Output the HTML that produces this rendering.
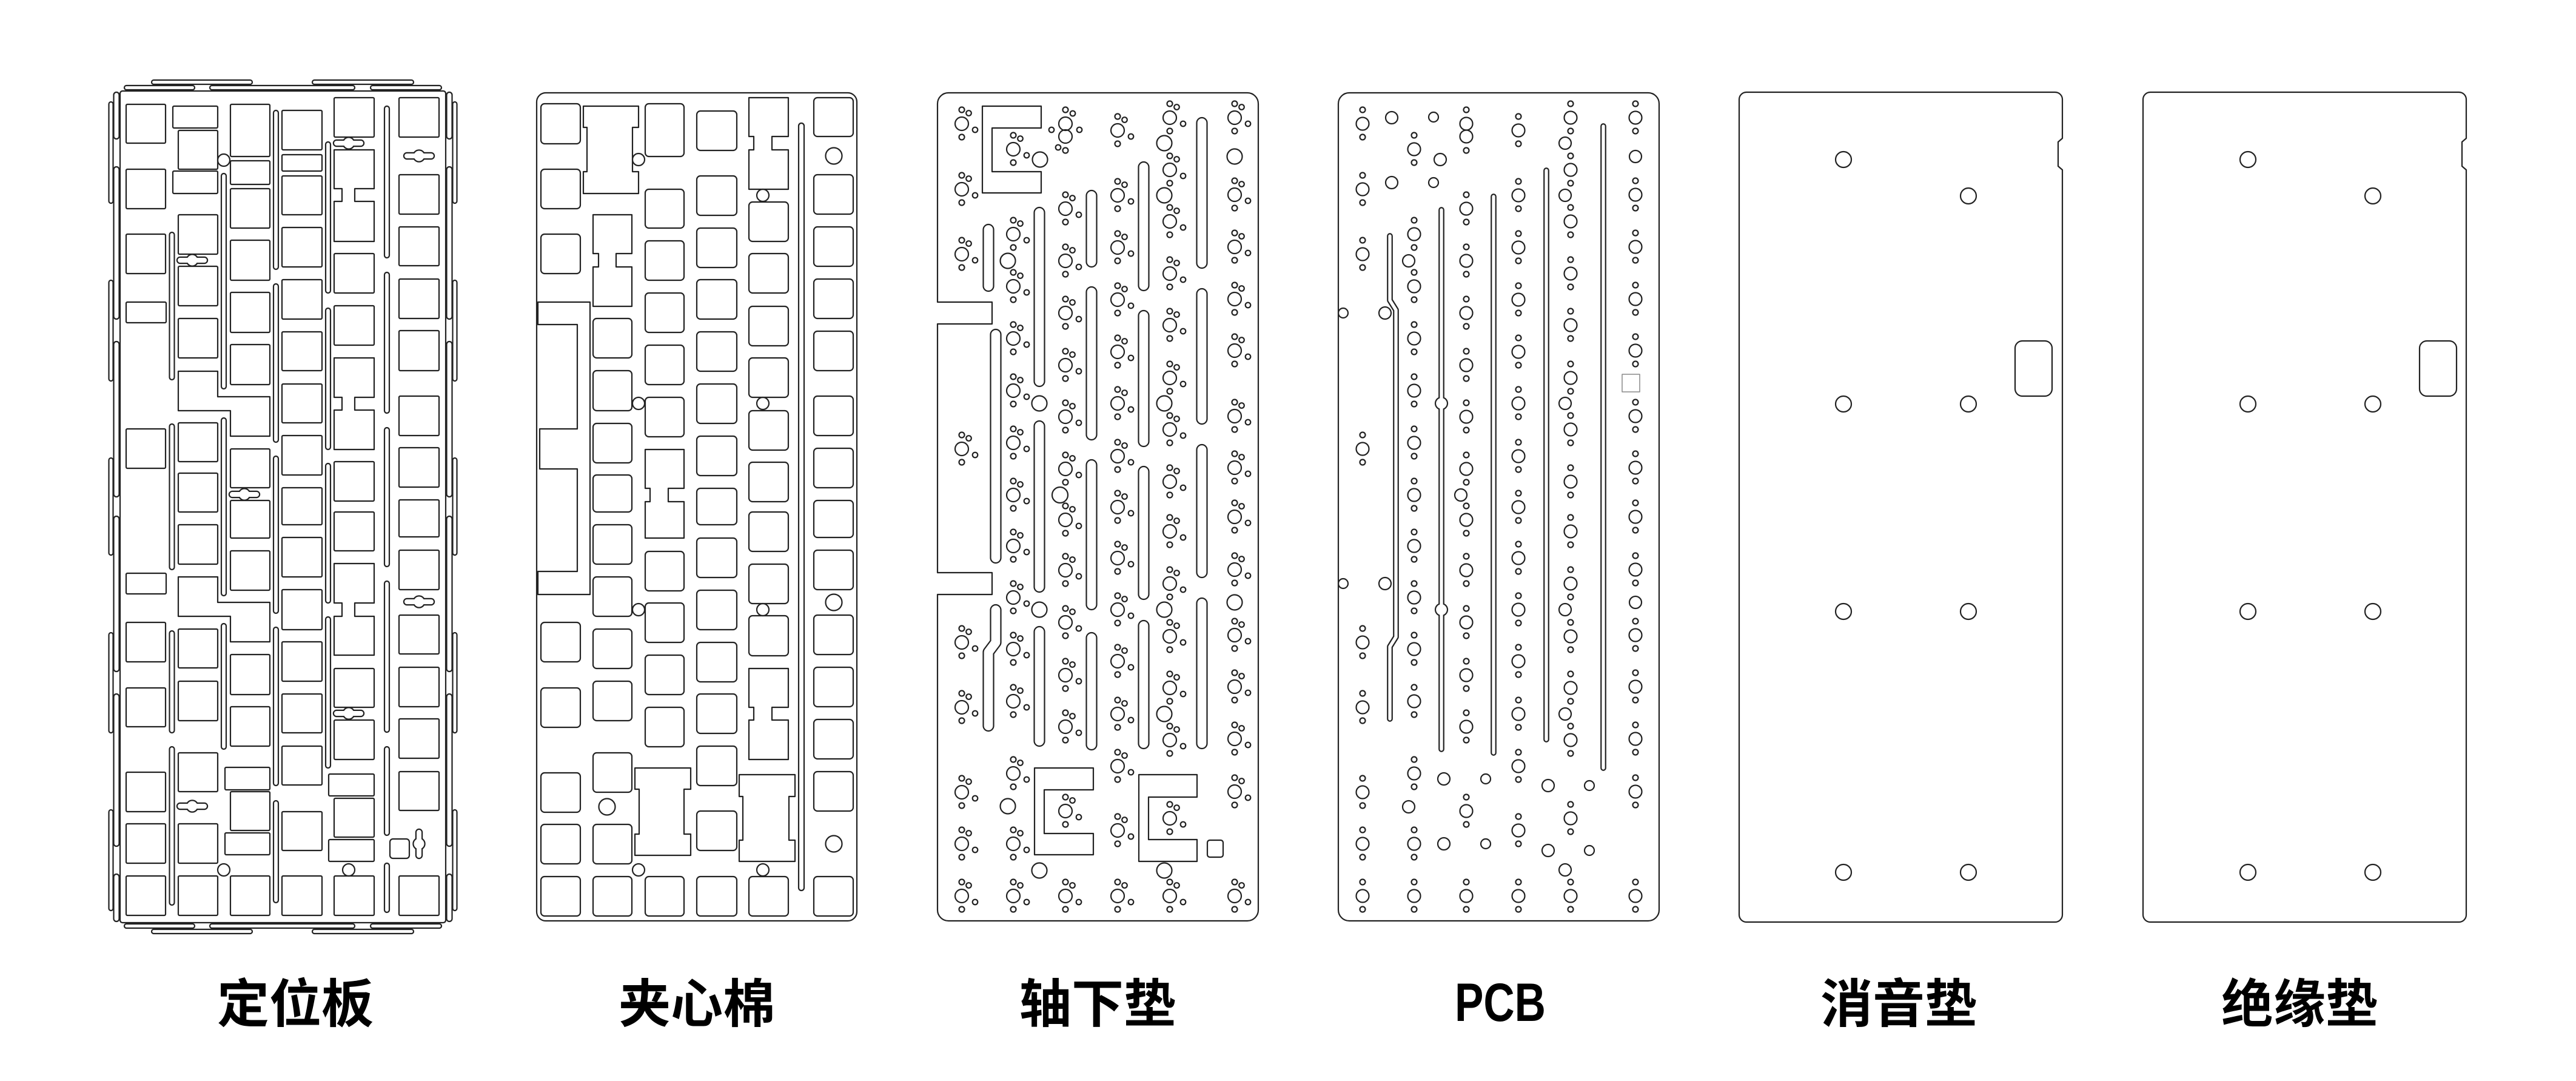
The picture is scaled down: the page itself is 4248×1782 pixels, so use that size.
<!DOCTYPE html>
<html><head><meta charset="utf-8">
<style>
html,body{margin:0;padding:0;background:#fff;}
svg{display:block;}
</style></head><body>
<svg xmlns="http://www.w3.org/2000/svg" width="4248" height="1782" viewBox="0 0 4248 1782">
<rect width="4248" height="1782" fill="#fff"/>
<defs>
<g id="kh"><rect x="-24" y="-4" width="48" height="8" rx="4"/><circle r="8.5"/></g>
<g id="khv"><rect x="-4" y="-23" width="8" height="46" rx="4"/><circle r="8.5"/></g>
<g id="f3"><circle r="11"/><circle cy="-23" r="4.5"/><circle cx="11.5" cy="-17.5" r="4.3"/><circle cx="22" cy="10" r="4.3"/><circle cy="22" r="4.5"/></g>
<g id="f4"><circle r="10.5"/><circle cy="-23" r="4.5"/><circle cy="22" r="4.5"/></g>
</defs>

<g fill="none" stroke="#222" stroke-width="2.2" stroke-linejoin="round">

<!-- ================= PANEL 1 定位板 ================= -->
<rect x="198" y="150" width="537" height="1371" rx="4"/>
<!-- top / bottom tabs -->
<rect x="250" y="132" width="166" height="7" rx="3.5"/>
<rect x="515" y="132" width="167" height="7" rx="3.5"/>
<rect x="205" y="141" width="116" height="7" rx="3.5"/>
<rect x="346" y="141" width="239" height="7" rx="3.5"/>
<rect x="611" y="141" width="117" height="7" rx="3.5"/>
<rect x="205" y="1523" width="116" height="7" rx="3.5"/>
<rect x="346" y="1523" width="239" height="7" rx="3.5"/>
<rect x="611" y="1523" width="117" height="7" rx="3.5"/>
<rect x="250" y="1532" width="166" height="7" rx="3.5"/>
<rect x="515" y="1532" width="167" height="7" rx="3.5"/>
<!-- side tabs outer -->
<rect x="179.5" y="168" width="7" height="167" rx="3.5"/>
<rect x="179.5" y="462" width="7" height="166" rx="3.5"/>
<rect x="179.5" y="755" width="7" height="160" rx="3.5"/>
<rect x="179.5" y="1043" width="7" height="165" rx="3.5"/>
<rect x="179.5" y="1335" width="7" height="166" rx="3.5"/>
<rect x="746.5" y="168" width="7" height="167" rx="3.5"/>
<rect x="746.5" y="462" width="7" height="166" rx="3.5"/>
<rect x="746.5" y="755" width="7" height="160" rx="3.5"/>
<rect x="746.5" y="1043" width="7" height="165" rx="3.5"/>
<rect x="746.5" y="1335" width="7" height="166" rx="3.5"/>
<!-- side tabs inner -->
<rect x="187.5" y="152" width="9" height="77" rx="4.5"/>
<rect x="187.5" y="275" width="9" height="251" rx="4.5"/>
<rect x="187.5" y="563" width="9" height="256" rx="4.5"/>
<rect x="187.5" y="851" width="9" height="256" rx="4.5"/>
<rect x="187.5" y="1144" width="9" height="251" rx="4.5"/>
<rect x="187.5" y="1441" width="9" height="78" rx="4.5"/>
<rect x="736.5" y="152" width="9" height="77" rx="4.5"/>
<rect x="736.5" y="275" width="9" height="251" rx="4.5"/>
<rect x="736.5" y="563" width="9" height="256" rx="4.5"/>
<rect x="736.5" y="851" width="9" height="256" rx="4.5"/>
<rect x="736.5" y="1144" width="9" height="251" rx="4.5"/>
<rect x="736.5" y="1441" width="9" height="78" rx="4.5"/>
<!-- col A -->
<rect x="208" y="172" width="65" height="64" rx="2"/>
<rect x="208" y="279" width="65" height="65" rx="2"/>
<rect x="208" y="386" width="65" height="65" rx="2"/>
<rect x="208" y="498" width="66" height="34" rx="2"/>
<rect x="208" y="707" width="65" height="65" rx="2"/>
<rect x="208" y="945" width="66" height="34" rx="2"/>
<rect x="208" y="1026" width="65" height="65" rx="2"/>
<rect x="208" y="1134" width="65" height="64" rx="2"/>
<rect x="208" y="1273" width="65" height="65" rx="2"/>
<rect x="208" y="1358" width="65" height="65" rx="2"/>
<rect x="208" y="1444" width="65" height="65" rx="2"/>
<!-- col B -->
<rect x="285" y="175" width="74" height="36" rx="2"/>
<rect x="294" y="215" width="65" height="64" rx="2"/>
<rect x="285" y="282" width="74" height="37" rx="2"/>
<rect x="294" y="354" width="65" height="65" rx="2"/>
<rect x="294" y="439" width="65" height="65" rx="2"/>
<rect x="294" y="525" width="65" height="65" rx="2"/>
<path d="M294,612 H359 V654 H445 V719 H380 V677 H294 Z"/>
<rect x="294" y="697" width="65" height="64" rx="2"/>
<rect x="294" y="780" width="65" height="64" rx="2"/>
<rect x="294" y="865" width="65" height="65" rx="2"/>
<path d="M294,951 H359 V993 H445 V1058 H380 V1016 H294 Z"/>
<rect x="294" y="1037" width="65" height="64" rx="2"/>
<rect x="294" y="1123" width="65" height="65" rx="2"/>
<rect x="294" y="1241" width="65" height="64" rx="2"/>
<rect x="294" y="1358" width="65" height="65" rx="2"/>
<rect x="294" y="1444" width="65" height="65" rx="2"/>
<!-- col C -->
<rect x="380" y="172" width="65" height="86" rx="2"/>
<rect x="380" y="265" width="65" height="39" rx="2"/>
<rect x="380" y="311" width="65" height="65" rx="2"/>
<rect x="380" y="396" width="65" height="66" rx="2"/>
<rect x="380" y="482" width="65" height="66" rx="2"/>
<rect x="380" y="568" width="65" height="66" rx="2"/>
<rect x="380" y="740" width="65" height="64" rx="2"/>
<rect x="380" y="825" width="65" height="62" rx="2"/>
<rect x="380" y="908" width="65" height="65" rx="2"/>
<rect x="380" y="1079" width="65" height="66" rx="2"/>
<rect x="380" y="1165" width="65" height="65" rx="2"/>
<rect x="371" y="1265" width="74" height="37" rx="2"/>
<rect x="380" y="1305" width="65" height="64" rx="2"/>
<rect x="371" y="1373" width="74" height="36" rx="2"/>
<rect x="380" y="1444" width="65" height="65" rx="2"/>
<!-- col D -->
<rect x="465" y="182" width="66" height="65" rx="2"/>
<rect x="465" y="255" width="66" height="27" rx="2"/>
<rect x="465" y="290" width="66" height="64" rx="2"/>
<rect x="465" y="375" width="66" height="65" rx="2"/>
<rect x="465" y="461" width="66" height="65" rx="2"/>
<rect x="465" y="547" width="66" height="64" rx="2"/>
<rect x="465" y="633" width="66" height="64" rx="2"/>
<rect x="465" y="718" width="66" height="65" rx="2"/>
<rect x="465" y="804" width="66" height="61" rx="2"/>
<rect x="465" y="886" width="66" height="65" rx="2"/>
<rect x="465" y="972" width="66" height="66" rx="2"/>
<rect x="465" y="1058" width="66" height="65" rx="2"/>
<rect x="465" y="1144" width="66" height="64" rx="2"/>
<rect x="465" y="1230" width="66" height="64" rx="2"/>
<rect x="465" y="1338" width="66" height="64" rx="2"/>
<rect x="465" y="1444" width="66" height="65" rx="2"/>
<!-- col E -->
<rect x="551" y="161" width="66" height="65" rx="2"/>
<path d="M551,247 H617 V311 H585 V332 H617 V398 H551 V332 H564 V311 H551 Z"/>
<rect x="551" y="418" width="66" height="65" rx="2"/>
<rect x="551" y="504" width="66" height="65" rx="2"/>
<path d="M551,590 H617 V655 H585 V676 H617 V741 H551 V676 H564 V655 H551 Z"/>
<rect x="551" y="761" width="66" height="65" rx="2"/>
<rect x="551" y="844" width="66" height="64" rx="2"/>
<path d="M551,929 H617 V994 H585 V1016 H617 V1080 H551 V1016 H564 V994 H551 Z"/>
<rect x="551" y="1102" width="66" height="64" rx="2"/>
<rect x="551" y="1187" width="66" height="65" rx="2"/>
<rect x="542" y="1276" width="75" height="36" rx="2"/>
<rect x="551" y="1316" width="66" height="64" rx="2"/>
<rect x="542" y="1384" width="75" height="36" rx="2"/>
<rect x="551" y="1444" width="66" height="65" rx="2"/>
<!-- col F -->
<rect x="658" y="161" width="66" height="65" rx="2"/>
<rect x="658" y="288" width="66" height="65" rx="2"/>
<rect x="658" y="374" width="66" height="64" rx="2"/>
<rect x="658" y="460" width="66" height="65" rx="2"/>
<rect x="658" y="545" width="66" height="66" rx="2"/>
<rect x="658" y="653" width="66" height="65" rx="2"/>
<rect x="658" y="738" width="66" height="65" rx="2"/>
<rect x="658" y="824" width="66" height="61" rx="2"/>
<rect x="658" y="907" width="66" height="65" rx="2"/>
<rect x="658" y="1014" width="66" height="64" rx="2"/>
<rect x="658" y="1100" width="66" height="65" rx="2"/>
<rect x="658" y="1185" width="66" height="65" rx="2"/>
<rect x="658" y="1272" width="66" height="64" rx="2"/>
<rect x="643" y="1383" width="32" height="32" rx="5"/>
<rect x="658" y="1444" width="66" height="65" rx="2"/>
<!-- slots -->
<rect x="279.5" y="383" width="8" height="243" rx="4"/>
<rect x="279.5" y="699" width="8" height="240" rx="4"/>
<rect x="279.5" y="1040" width="8" height="168" rx="4"/>
<rect x="279.5" y="1231" width="8" height="261" rx="4"/>
<rect x="365" y="286" width="8" height="355" rx="4"/>
<rect x="365" y="689" width="8" height="293" rx="4"/>
<rect x="365" y="1028" width="8" height="207" rx="4"/>
<rect x="451" y="182" width="8" height="262" rx="4"/>
<rect x="451" y="468" width="8" height="261" rx="4"/>
<rect x="451" y="752" width="8" height="259" rx="4"/>
<rect x="451" y="1034" width="8" height="261" rx="4"/>
<rect x="451" y="1320" width="8" height="168" rx="4"/>
<rect x="537" y="234" width="8" height="249" rx="4"/>
<rect x="537" y="508" width="8" height="233" rx="4"/>
<rect x="537" y="764" width="8" height="230" rx="4"/>
<rect x="537" y="1017" width="8" height="249" rx="4"/>
<rect x="634" y="175" width="8" height="250" rx="4"/>
<rect x="634" y="449" width="8" height="232" rx="4"/>
<rect x="634" y="705" width="8" height="229" rx="4"/>
<rect x="634" y="958" width="8" height="249" rx="4"/>
<rect x="634" y="1231" width="8" height="146" rx="4"/>
<rect x="634" y="1423" width="8" height="81" rx="4"/>
<circle cx="369" cy="264" r="10"/>
<circle cx="369" cy="1434" r="10"/>
<circle cx="575" cy="1434" r="10"/>

<!-- ================= PANEL 2 夹心棉 ================= -->
<rect x="885" y="153" width="528" height="1365" rx="15"/>
<!-- col A -->
<rect x="892" y="171" width="65" height="66" rx="6"/>
<rect x="892" y="279" width="65" height="65" rx="6"/>
<rect x="892" y="386" width="65" height="65" rx="6"/>
<path d="M887,498 H973 V980 H887 V942 H952 V773 H890 V707 H952 V535 H887 Z"/>
<rect x="892" y="1026" width="65" height="65" rx="6"/>
<rect x="892" y="1134" width="65" height="65" rx="6"/>
<rect x="892" y="1274" width="65" height="65" rx="6"/>
<rect x="892" y="1359" width="65" height="65" rx="6"/>
<rect x="892" y="1445" width="65" height="65" rx="6"/>
<!-- col B -->
<path d="M962,175 H1053 V210 H1043 V283 H1053 V319 H962 V283 H968 V210 H962 Z"/>
<path d="M978,354 H1042 V418 H1016 V440 H1042 V505 H978 V440 H987 V418 H978 Z"/>
<rect x="978" y="525" width="64" height="65" rx="6"/>
<rect x="978" y="611" width="64" height="66" rx="6"/>
<rect x="978" y="698" width="64" height="65" rx="6"/>
<rect x="978" y="783" width="64" height="61" rx="6"/>
<rect x="978" y="865" width="64" height="65" rx="6"/>
<rect x="978" y="951" width="64" height="65" rx="6"/>
<rect x="978" y="1037" width="64" height="65" rx="6"/>
<rect x="978" y="1123" width="64" height="65" rx="6"/>
<rect x="978" y="1241" width="64" height="65" rx="6"/>
<rect x="978" y="1359" width="64" height="65" rx="6"/>
<rect x="978" y="1445" width="64" height="65" rx="6"/>
<!-- col C -->
<rect x="1064" y="171" width="64" height="87" rx="6"/>
<rect x="1064" y="312" width="64" height="64" rx="6"/>
<rect x="1064" y="397" width="64" height="65" rx="6"/>
<rect x="1064" y="483" width="64" height="65" rx="6"/>
<rect x="1064" y="569" width="64" height="65" rx="6"/>
<rect x="1064" y="655" width="64" height="65" rx="6"/>
<path d="M1064,741 H1128 V805 H1102 V827 H1128 V887 H1064 V827 H1072 V805 H1064 Z"/>
<rect x="1064" y="909" width="64" height="65" rx="6"/>
<rect x="1064" y="994" width="64" height="65" rx="6"/>
<rect x="1064" y="1080" width="64" height="65" rx="6"/>
<rect x="1064" y="1166" width="64" height="65" rx="6"/>
<path d="M1047,1266 H1139 V1301 H1128 V1375 H1139 V1410 H1047 V1375 H1054 V1301 H1047 Z"/>
<rect x="1064" y="1445" width="64" height="65" rx="6"/>
<!-- col D -->
<rect x="1149" y="183" width="66" height="65" rx="6"/>
<rect x="1149" y="290" width="66" height="65" rx="6"/>
<rect x="1149" y="376" width="66" height="65" rx="6"/>
<rect x="1149" y="461" width="66" height="65" rx="6"/>
<rect x="1149" y="547" width="66" height="65" rx="6"/>
<rect x="1149" y="633" width="66" height="65" rx="6"/>
<rect x="1149" y="719" width="66" height="65" rx="6"/>
<rect x="1149" y="805" width="66" height="60" rx="6"/>
<rect x="1149" y="887" width="66" height="65" rx="6"/>
<rect x="1149" y="973" width="66" height="65" rx="6"/>
<rect x="1149" y="1059" width="66" height="65" rx="6"/>
<rect x="1149" y="1144" width="66" height="65" rx="6"/>
<rect x="1149" y="1230" width="66" height="65" rx="6"/>
<rect x="1149" y="1337" width="66" height="65" rx="6"/>
<rect x="1149" y="1445" width="66" height="65" rx="6"/>
<!-- col E -->
<path d="M1235,161 H1300 V225 H1273 V247 H1300 V312 H1235 V247 H1243 V225 H1235 Z"/>
<rect x="1235" y="333" width="65" height="65" rx="6"/>
<rect x="1235" y="418" width="65" height="65" rx="6"/>
<rect x="1235" y="505" width="65" height="65" rx="6"/>
<rect x="1235" y="590" width="65" height="65" rx="6"/>
<rect x="1235" y="677" width="65" height="65" rx="6"/>
<rect x="1235" y="762" width="65" height="65" rx="6"/>
<rect x="1235" y="844" width="65" height="65" rx="6"/>
<rect x="1235" y="930" width="65" height="65" rx="6"/>
<rect x="1235" y="1015" width="65" height="66" rx="6"/>
<path d="M1235,1102 H1300 V1166 H1273 V1187 H1300 V1252 H1235 V1187 H1243 V1166 H1235 Z"/>
<path d="M1219,1277 H1311 V1313 H1301 V1385 H1311 V1420 H1219 V1385 H1225 V1313 H1219 Z"/>
<rect x="1235" y="1445" width="65" height="65" rx="6"/>
<rect x="1317" y="203" width="9" height="1265" rx="4.5"/>
<!-- col F -->
<rect x="1342" y="161" width="65" height="64" rx="6"/>
<rect x="1342" y="288" width="65" height="65" rx="6"/>
<rect x="1342" y="374" width="65" height="65" rx="6"/>
<rect x="1342" y="460" width="65" height="65" rx="6"/>
<rect x="1342" y="546" width="65" height="65" rx="6"/>
<rect x="1342" y="653" width="65" height="65" rx="6"/>
<rect x="1342" y="739" width="65" height="65" rx="6"/>
<rect x="1342" y="825" width="65" height="61" rx="6"/>
<rect x="1342" y="907" width="65" height="65" rx="6"/>
<rect x="1342" y="1014" width="65" height="65" rx="6"/>
<rect x="1342" y="1100" width="65" height="65" rx="6"/>
<rect x="1342" y="1186" width="65" height="65" rx="6"/>
<rect x="1342" y="1272" width="65" height="65" rx="6"/>
<rect x="1342" y="1445" width="65" height="65" rx="6"/>
<circle cx="1053" cy="263" r="10"/>
<circle cx="1053" cy="665" r="10"/>
<circle cx="1053" cy="1005" r="10"/>
<circle cx="1053" cy="1434" r="10"/>
<circle cx="1258" cy="322" r="10"/>
<circle cx="1258" cy="665" r="10"/>
<circle cx="1258" cy="1005" r="10"/>
<circle cx="1258" cy="1434" r="10"/>
<circle cx="1001" cy="1330" r="13.5"/>
<circle cx="1375" cy="257" r="13.5"/>
<circle cx="1375" cy="993" r="13.5"/>
<circle cx="1375" cy="1391" r="13.5"/>

<!-- ================= PANEL 3 轴下垫 ================= -->
<g transform="translate(1546,153)">
<path d="M18,0 H511 A18,18 0 0 1 529,18 V1347 A18,18 0 0 1 511,1365 H18 A18,18 0 0 1 0,1347 V827 H90 V791 H0 V381 H90 V345 H0 V18 A18,18 0 0 1 18,0 Z"/>
<path d="M171,22 H74 V165 H171 V130 H90 V58 H171 Z"/>
<path d="M257,1113 H160 V1256 H257 V1221 H176 V1149 H257 Z"/>
<path d="M428,1124 H332 V1267 H428 V1231 H348 V1161 H428 Z"/>
<rect x="445" y="1232" width="26" height="28" rx="4"/>
<circle cx="169" cy="110" r="12.5"/>
<circle cx="116" cy="277" r="12.5"/>
<circle cx="168" cy="512" r="12.5"/>
<circle cx="202" cy="663" r="13"/>
<circle cx="168" cy="852" r="12.5"/>
<circle cx="116" cy="1176" r="12.5"/>
<circle cx="168" cy="1282" r="12.5"/>
<circle cx="374" cy="83" r="12.5"/>
<circle cx="374" cy="169" r="12.5"/>
<circle cx="374" cy="512" r="12.5"/>
<circle cx="374" cy="852" r="12.5"/>
<circle cx="374" cy="1024" r="12.5"/>
<circle cx="374" cy="1282" r="12.5"/>
<circle cx="490" cy="105" r="12.5"/>
<circle cx="490" cy="840" r="12.5"/>
<rect x="75.5" y="217" width="17" height="110" rx="8.5"/>
<rect x="159.5" y="189" width="17" height="295" rx="8.5"/>
<rect x="245.5" y="161" width="17" height="126" rx="8.5"/>
<rect x="245.5" y="320" width="17" height="252" rx="8.5"/>
<rect x="245.5" y="605" width="17" height="247" rx="8.5"/>
<rect x="331.5" y="114" width="17" height="212" rx="8.5"/>
<rect x="331.5" y="359" width="17" height="224" rx="8.5"/>
<rect x="331.5" y="616" width="17" height="219" rx="8.5"/>
<rect x="427.5" y="41" width="17" height="248" rx="8.5"/>
<rect x="427.5" y="323" width="17" height="223" rx="8.5"/>
<rect x="427.5" y="580" width="17" height="219" rx="8.5"/>
<rect x="87.5" y="390" width="17" height="385" rx="8.5"/>
<rect x="159.5" y="541" width="17" height="282" rx="8.5"/>
<rect x="159.5" y="880" width="17" height="197" rx="8.5"/>
<rect x="245.5" y="890" width="17" height="193" rx="8.5"/>
<rect x="331.5" y="870" width="17" height="211" rx="8.5"/>
<rect x="427.5" y="833" width="17" height="248" rx="8.5"/>
<!-- double footprint col3 -->
<circle cx="211" cy="51" r="11"/><circle cx="211" cy="72" r="11"/>
<circle cx="211" cy="28" r="4.5"/><circle cx="223" cy="34" r="4.3"/>
<circle cx="234" cy="61" r="4.3"/><circle cx="188" cy="61" r="4.3"/>
<circle cx="199" cy="90" r="4.3"/><circle cx="211" cy="95" r="4.5"/>
<!-- footprints -->
<use href="#f3" x="40" y="51"/><use href="#f3" x="40" y="159"/><use href="#f3" x="40" y="266"/><use href="#f3" x="40" y="587"/><use href="#f3" x="40" y="906"/><use href="#f3" x="40" y="1013"/><use href="#f3" x="40" y="1153"/><use href="#f3" x="40" y="1238"/><use href="#f3" x="40" y="1324"/>
<use href="#f3" x="125" y="93"/><use href="#f3" x="125" y="233"/><use href="#f3" x="125" y="319"/><use href="#f3" x="125" y="405"/><use href="#f3" x="125" y="491"/><use href="#f3" x="125" y="577"/><use href="#f3" x="125" y="663"/><use href="#f3" x="125" y="747"/><use href="#f3" x="125" y="832"/><use href="#f3" x="125" y="917"/><use href="#f3" x="125" y="1003"/><use href="#f3" x="125" y="1122"/><use href="#f3" x="125" y="1238"/><use href="#f3" x="125" y="1324"/>
<use href="#f3" x="211" y="191"/><use href="#f3" x="211" y="277"/><use href="#f3" x="211" y="363"/><use href="#f3" x="211" y="449"/><use href="#f3" x="211" y="534"/><use href="#f3" x="211" y="620"/><use href="#f3" x="211" y="704"/><use href="#f3" x="211" y="787"/><use href="#f3" x="211" y="873"/><use href="#f3" x="211" y="960"/><use href="#f3" x="211" y="1045"/><use href="#f3" x="211" y="1184"/><use href="#f3" x="211" y="1324"/>
<use href="#f3" x="297" y="62"/><use href="#f3" x="297" y="169"/><use href="#f3" x="297" y="255"/><use href="#f3" x="297" y="341"/><use href="#f3" x="297" y="427"/><use href="#f3" x="297" y="512"/><use href="#f3" x="297" y="599"/><use href="#f3" x="297" y="683"/><use href="#f3" x="297" y="767"/><use href="#f3" x="297" y="852"/><use href="#f3" x="297" y="937"/><use href="#f3" x="297" y="1024"/><use href="#f3" x="297" y="1110"/><use href="#f3" x="297" y="1216"/><use href="#f3" x="297" y="1324"/>
<use href="#f3" x="383" y="41"/><use href="#f3" x="383" y="127"/><use href="#f3" x="383" y="212"/><use href="#f3" x="383" y="298"/><use href="#f3" x="383" y="383"/><use href="#f3" x="383" y="470"/><use href="#f3" x="383" y="555"/><use href="#f3" x="383" y="641"/><use href="#f3" x="383" y="723"/><use href="#f3" x="383" y="809"/><use href="#f3" x="383" y="896"/><use href="#f3" x="383" y="981"/><use href="#f3" x="383" y="1067"/><use href="#f3" x="383" y="1196"/><use href="#f3" x="383" y="1324"/>
<use href="#f3" x="490" y="41"/><use href="#f3" x="490" y="168"/><use href="#f3" x="490" y="254"/><use href="#f3" x="490" y="340"/><use href="#f3" x="490" y="425"/><use href="#f3" x="490" y="533"/><use href="#f3" x="490" y="618"/><use href="#f3" x="490" y="699"/><use href="#f3" x="490" y="786"/><use href="#f3" x="490" y="894"/><use href="#f3" x="490" y="979"/><use href="#f3" x="490" y="1065"/><use href="#f3" x="490" y="1152"/><use href="#f3" x="490" y="1324"/>
</g>

<!-- ================= PANEL 4 PCB ================= -->
<g transform="translate(2207,153)">
<rect x="0" y="0" width="529" height="1365" rx="18"/>
<circle cx="211" cy="51" r="10.5"/><circle cx="211" cy="72" r="10.5"/>
<circle cx="211" cy="28" r="4.5"/><circle cx="211" cy="95" r="4.5"/>
<use href="#f4" x="40" y="51"/><use href="#f4" x="40" y="159"/><use href="#f4" x="40" y="266"/><use href="#f4" x="40" y="587"/><use href="#f4" x="40" y="906"/><use href="#f4" x="40" y="1013"/><use href="#f4" x="40" y="1153"/><use href="#f4" x="40" y="1238"/><use href="#f4" x="40" y="1324"/>
<use href="#f4" x="125" y="93"/><use href="#f4" x="125" y="233"/><use href="#f4" x="125" y="319"/><use href="#f4" x="125" y="405"/><use href="#f4" x="125" y="491"/><use href="#f4" x="125" y="577"/><use href="#f4" x="125" y="663"/><use href="#f4" x="125" y="747"/><use href="#f4" x="125" y="832"/><use href="#f4" x="125" y="917"/><use href="#f4" x="125" y="1003"/><use href="#f4" x="125" y="1122"/><use href="#f4" x="125" y="1238"/><use href="#f4" x="125" y="1324"/>
<use href="#f4" x="211" y="191"/><use href="#f4" x="211" y="277"/><use href="#f4" x="211" y="363"/><use href="#f4" x="211" y="449"/><use href="#f4" x="211" y="534"/><use href="#f4" x="211" y="620"/><use href="#f4" x="211" y="704"/><use href="#f4" x="211" y="787"/><use href="#f4" x="211" y="873"/><use href="#f4" x="211" y="960"/><use href="#f4" x="211" y="1045"/><use href="#f4" x="211" y="1184"/><use href="#f4" x="211" y="1324"/>
<use href="#f4" x="297" y="62"/><use href="#f4" x="297" y="169"/><use href="#f4" x="297" y="255"/><use href="#f4" x="297" y="341"/><use href="#f4" x="297" y="427"/><use href="#f4" x="297" y="512"/><use href="#f4" x="297" y="599"/><use href="#f4" x="297" y="683"/><use href="#f4" x="297" y="767"/><use href="#f4" x="297" y="852"/><use href="#f4" x="297" y="937"/><use href="#f4" x="297" y="1024"/><use href="#f4" x="297" y="1110"/><use href="#f4" x="297" y="1216"/><use href="#f4" x="297" y="1324"/>
<use href="#f4" x="383" y="41"/><use href="#f4" x="383" y="127"/><use href="#f4" x="383" y="212"/><use href="#f4" x="383" y="298"/><use href="#f4" x="383" y="383"/><use href="#f4" x="383" y="470"/><use href="#f4" x="383" y="555"/><use href="#f4" x="383" y="641"/><use href="#f4" x="383" y="723"/><use href="#f4" x="383" y="809"/><use href="#f4" x="383" y="896"/><use href="#f4" x="383" y="981"/><use href="#f4" x="383" y="1067"/><use href="#f4" x="383" y="1196"/><use href="#f4" x="383" y="1324"/>
<use href="#f4" x="490" y="41"/><use href="#f4" x="490" y="168"/><use href="#f4" x="490" y="254"/><use href="#f4" x="490" y="340"/><use href="#f4" x="490" y="425"/><use href="#f4" x="490" y="533"/><use href="#f4" x="490" y="618"/><use href="#f4" x="490" y="699"/><use href="#f4" x="490" y="786"/><use href="#f4" x="490" y="894"/><use href="#f4" x="490" y="979"/><use href="#f4" x="490" y="1065"/><use href="#f4" x="490" y="1152"/><use href="#f4" x="490" y="1324"/>
<circle cx="88" cy="41" r="10"/><circle cx="168" cy="110" r="10"/><circle cx="88" cy="148" r="10"/>
<circle cx="116" cy="277" r="10"/><circle cx="202" cy="663" r="10"/>
<circle cx="374" cy="83" r="10"/><circle cx="374" cy="169" r="10"/><circle cx="374" cy="512" r="10"/>
<circle cx="490" cy="105" r="10"/><circle cx="116" cy="1177" r="10"/>
<circle cx="174" cy="1131" r="10"/><circle cx="174" cy="1238" r="10"/>
<circle cx="346" cy="1142" r="10"/><circle cx="346" cy="1249" r="10"/>
<circle cx="374" cy="1281" r="10"/><circle cx="374" cy="852" r="10"/><circle cx="374" cy="1024" r="10"/>
<circle cx="490" cy="840" r="10"/><circle cx="77" cy="363" r="10"/><circle cx="77" cy="809" r="10"/>
<circle cx="157" cy="40" r="8"/><circle cx="157" cy="148" r="8"/>
<circle cx="243" cy="1131" r="8"/><circle cx="243" cy="1238" r="8"/>
<circle cx="414" cy="1142" r="8"/><circle cx="414" cy="1249" r="8"/>
<circle cx="8" cy="363" r="8"/><circle cx="8" cy="809" r="8"/>
<rect x="468" y="464" width="29" height="29" stroke="#888" stroke-width="1.5"/>
</g>

<!-- ================= PANEL 5 消音垫 ================= -->
<g transform="translate(2868,152)">
<path d="M12,0 H521 A12,12 0 0 1 533,12 V76 L526,82 V122 L533,128 V1356 A12,12 0 0 1 521,1368 H12 A12,12 0 0 1 0,1356 V12 A12,12 0 0 1 12,0 Z"/>
<circle cx="172" cy="111" r="13"/><circle cx="378" cy="171" r="13"/>
<circle cx="172" cy="514" r="13"/><circle cx="378" cy="514" r="13"/>
<circle cx="172" cy="856" r="13"/><circle cx="378" cy="856" r="13"/>
<circle cx="172" cy="1286" r="13"/><circle cx="378" cy="1286" r="13"/>
<rect x="455" y="410" width="61" height="91" rx="12"/>
</g>

<!-- ================= PANEL 6 绝缘垫 ================= -->
<g transform="translate(3534,152)">
<path d="M12,0 H521 A12,12 0 0 1 533,12 V76 L526,82 V122 L533,128 V1356 A12,12 0 0 1 521,1368 H12 A12,12 0 0 1 0,1356 V12 A12,12 0 0 1 12,0 Z"/>
<circle cx="173" cy="111" r="13"/><circle cx="379" cy="171" r="13"/>
<circle cx="173" cy="514" r="13"/><circle cx="379" cy="514" r="13"/>
<circle cx="173" cy="856" r="13"/><circle cx="379" cy="856" r="13"/>
<circle cx="173" cy="1286" r="13"/><circle cx="379" cy="1286" r="13"/>
<rect x="456" y="410" width="61" height="91" rx="12"/>
</g>
</g>

<!-- keyholes (panel 1): union outline via stroke + white fill -->
<g stroke="#222" stroke-width="4.4" fill="none">
<use href="#kh" x="317" y="429"/><use href="#kh" x="403" y="815"/><use href="#kh" x="575" y="236"/><use href="#kh" x="691" y="257"/><use href="#kh" x="691" y="992"/><use href="#kh" x="575" y="1176"/><use href="#kh" x="317" y="1329"/><use href="#khv" x="691" y="1391"/>
</g>
<g stroke="none" fill="#fff">
<use href="#kh" x="317" y="429"/><use href="#kh" x="403" y="815"/><use href="#kh" x="575" y="236"/><use href="#kh" x="691" y="257"/><use href="#kh" x="691" y="992"/><use href="#kh" x="575" y="1176"/><use href="#kh" x="317" y="1329"/><use href="#khv" x="691" y="1391"/>
</g>

<!-- panel 3 jogged slot -->
<g transform="translate(1546,153)" fill="none" stroke-linecap="round" stroke-linejoin="round">
<path d="M96,852.5 V906 L84,922 V1043.5" stroke="#222" stroke-width="19.2"/>
<path d="M96,852.5 V906 L84,922 V1043.5" stroke="#fff" stroke-width="14.8"/>
</g>

<!-- PCB slots (outline via double stroke) -->
<g transform="translate(2207,153)">
<g fill="none" stroke="#222" stroke-width="9.7" stroke-linecap="round" stroke-linejoin="round">
<path d="M85,236 V342 L95,358 V897 L85,913 V1032"/>
<path d="M170,193 V1082"/>
<path d="M256,171 V1088"/>
<path d="M343,128 V1066"/>
<path d="M437,55 V1113"/>
</g>
<circle cx="170" cy="512" r="11.1" fill="#222"/>
<circle cx="170" cy="852" r="11.1" fill="#222"/>
<g fill="none" stroke="#fff" stroke-width="5.3" stroke-linecap="round" stroke-linejoin="round">
<path d="M85,236 V342 L95,358 V897 L85,913 V1032"/>
<path d="M170,193 V1082"/>
<path d="M256,171 V1088"/>
<path d="M343,128 V1066"/>
<path d="M437,55 V1113"/>
</g>
<circle cx="170" cy="512" r="8.9" fill="#fff"/>
<circle cx="170" cy="852" r="8.9" fill="#fff"/>
</g>

<!-- labels -->
<g font-family="'Liberation Sans', 'Noto Sans CJK SC', sans-serif" font-weight="700" font-size="86" text-anchor="middle" fill="#000">
<text x="487" y="1685">定位板</text>
<text x="1149" y="1685">夹心棉</text>
<text x="1810" y="1685">轴下垫</text>
<text x="3131" y="1685">消音垫</text>
<text x="3792" y="1685">绝缘垫</text>
</g>
<text x="2474" y="1683" font-family="'Liberation Sans', sans-serif" font-weight="700" font-size="89" text-anchor="middle" textLength="150" lengthAdjust="spacingAndGlyphs" fill="#000">PCB</text>
</svg>
</body></html>
